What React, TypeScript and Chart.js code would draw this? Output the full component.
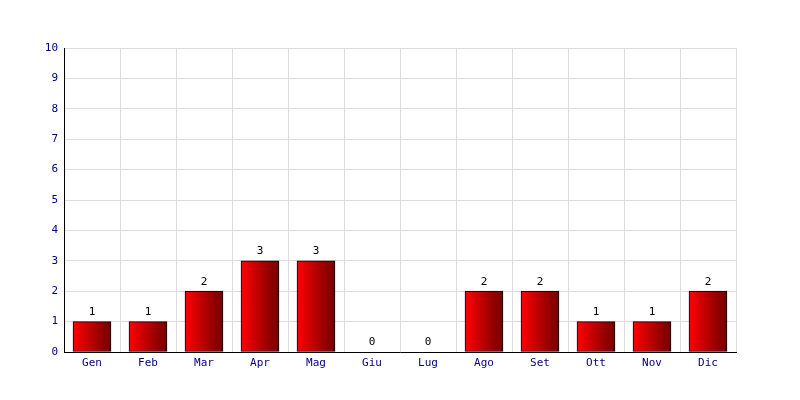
import React, { useEffect, useRef } from "react";
import { Chart, registerables } from "chart.js";

Chart.register(...registerables);

const categories = ["Gen", "Feb", "Mar", "Apr", "Mag", "Giu", "Lug", "Ago", "Set", "Ott", "Nov", "Dic"];
const values = [1, 1, 2, 3, 3, 0, 0, 2, 2, 1, 1, 2];
const yMax = 10;

const FONT = "'DejaVu Sans Mono', monospace";

const valueLabels = {
  id: "valueLabels",
  afterDatasetsDraw(chart: any) {
    const ctx = chart.ctx;
    const meta = chart.getDatasetMeta(0);
    ctx.save();
    ctx.font = `11px ${FONT}`;
    ctx.fillStyle = "#000000";
    ctx.textAlign = "center";
    ctx.textBaseline = "bottom";
    meta.data.forEach((el: any, i: number) => {
      ctx.fillText(String(values[i]), el.x, el.y - 4);
    });
    ctx.restore();
  },
};

export default function App() {
  const ref = useRef<HTMLCanvasElement>(null);
  useEffect(() => {
    document.body.style.margin = "0";
    const canvas = ref.current!;
    const chart = new Chart(canvas, {
      type: "bar",
      data: {
        labels: categories,
        datasets: [
          {
            data: values,
            borderColor: "#000000",
            borderWidth: 1,
            borderSkipped: false,
            categoryPercentage: 1,
            barThickness: 38,
            backgroundColor: (c: any) => {
              const ch = c.chart;
              const xs = ch.scales && ch.scales.x;
              if (!xs || c.dataIndex === undefined) return "#c00000";
              const cx = xs.getPixelForValue(c.dataIndex);
              if (!Number.isFinite(cx)) return "#c00000";
              const g = ch.ctx.createLinearGradient(cx - 19, 0, cx + 19, 0);
              g.addColorStop(0, "#ff0000");
              g.addColorStop(1, "#700000");
              return g;
            },
          },
        ],
      },
      options: {
        animation: false,
        responsive: false,
        layout: { padding: { top: 48, right: 64, left: 0, bottom: 0 } },
        plugins: { legend: { display: false }, tooltip: { enabled: false } },
        scales: {
          x: {
            grid: { color: "#dcdcdc", drawTicks: false, offset: true },
            border: { color: "#000000", width: 1 },
            ticks: { color: "#000080", font: { family: FONT, size: 11 }, padding: 5 },
            afterFit: (s: any) => {
              s.height = 48;
            },
          },
          y: {
            min: 0,
            max: yMax,
            grid: { color: "#dcdcdc", drawTicks: false },
            border: { color: "#000000", width: 1 },
            ticks: { stepSize: 1, color: "#000080", font: { family: FONT, size: 11 }, padding: 6 },
            afterFit: (s: any) => {
              s.width = 64;
            },
          },
        },
      },
      plugins: [valueLabels],
    });
    return () => chart.destroy();
  }, []);
  return <canvas ref={ref} width={800} height={400} style={{ display: "block" }} />;
}
